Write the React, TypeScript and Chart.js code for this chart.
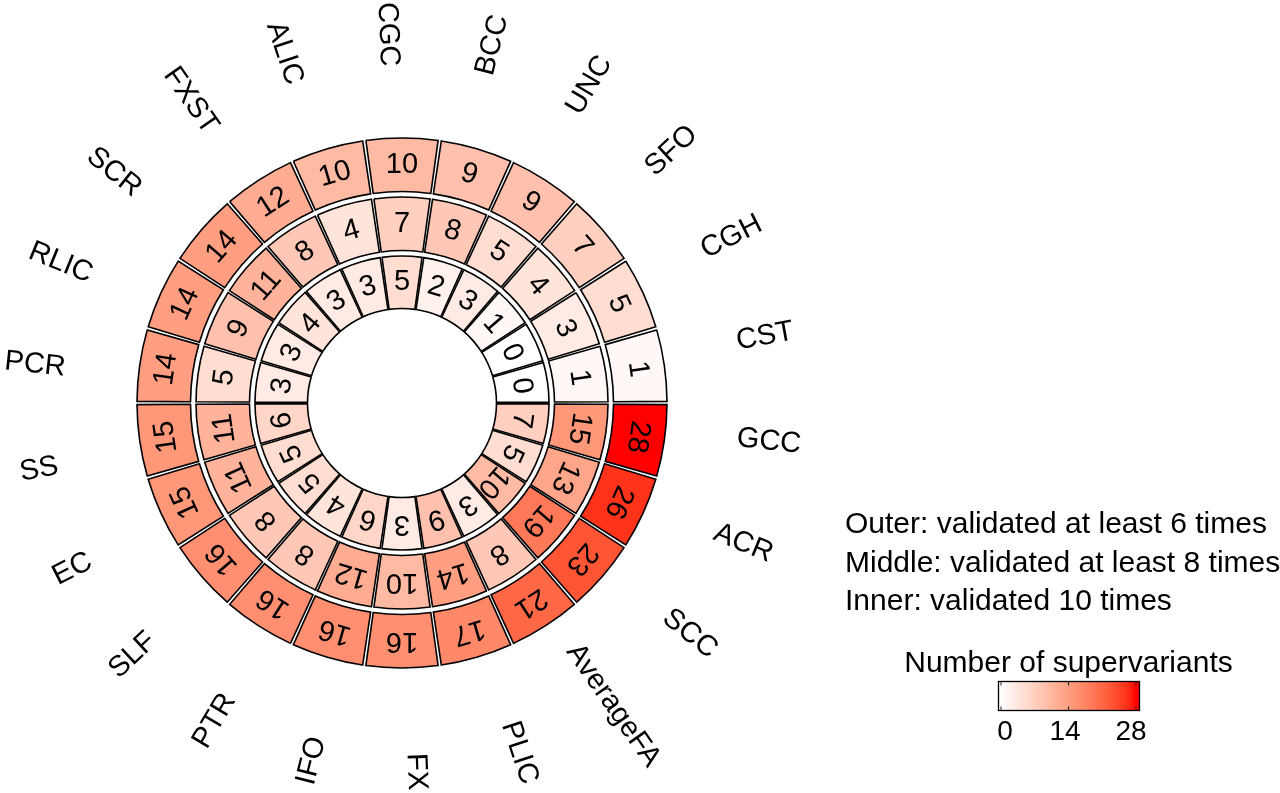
import React, { useEffect, useRef } from "react";
import { Chart, registerables } from "chart.js";

Chart.register(...registerables);

// ---------------- data ----------------
const sectors = [
  "GCC", "ACR", "SCC", "AverageFA", "PLIC", "FX", "IFO", "PTR", "SLF", "EC", "SS",
  "PCR", "RLIC", "SCR", "FXST", "ALIC", "CGC", "BCC", "UNC", "SFO", "CGH", "CST",
];
const outerValues = [28, 26, 23, 21, 17, 16, 16, 16, 16, 15, 15, 14, 14, 14, 12, 10, 10, 9, 9, 7, 5, 1];
const middleValues = [15, 13, 19, 8, 14, 10, 12, 8, 8, 11, 11, 5, 9, 11, 8, 4, 7, 8, 5, 4, 3, 1];
const innerValues = [7, 5, 10, 3, 9, 3, 6, 4, 5, 5, 6, 3, 3, 4, 3, 3, 5, 2, 3, 1, 0, 0];
const legendLines = [
  "Outer: validated at least 6 times",
  "Middle: validated at least 8 times",
  "Inner: validated 10 times",
];
const colorbarTitle = "Number of supervariants";
const colorbarTicks = [0, 14, 28];
const colorMin = 0;
const colorMax = 28;

// ---------------- styles / layout ----------------
const FONT = '"Liberation Sans", Arial, Helvetica, sans-serif';
const W = 1280;
const H = 793;
const CX = 402;
const CY = 403;
const OUTER_R = 265;
const INNER_R = 94.5;
const GAP_DEG = 0.7;
const SECTOR_DEG = 360 / sectors.length;
const CELL_UNIT = 1;
const GAP_UNIT = GAP_DEG / (SECTOR_DEG - GAP_DEG);
const LABEL_R = 369;
const LABEL_SHIFT_DEG = -2.2;
const CELL_BORDER = 1.6;

// ---------------- colour scale (LAB interpolation white -> red) ----------------
function srgbToLin(c: number) {
  c /= 255;
  return c <= 0.04045 ? c / 12.92 : Math.pow((c + 0.055) / 1.055, 2.4);
}
function linToSrgb(c: number) {
  const v = c <= 0.0031308 ? 12.92 * c : 1.055 * Math.pow(Math.max(c, 0), 1 / 2.4) - 0.055;
  return Math.round(Math.min(1, Math.max(0, v)) * 255);
}
function rgbToLab(rgb: number[]) {
  const R = srgbToLin(rgb[0]), G = srgbToLin(rgb[1]), B = srgbToLin(rgb[2]);
  const X = (0.4124 * R + 0.3576 * G + 0.1805 * B) / 0.95047;
  const Y = 0.2126 * R + 0.7152 * G + 0.0722 * B;
  const Z = (0.0193 * R + 0.1192 * G + 0.9505 * B) / 1.08883;
  const f = (t: number) => (t > 0.008856 ? Math.cbrt(t) : 7.787 * t + 16 / 116);
  const fx = f(X), fy = f(Y), fz = f(Z);
  return [116 * fy - 16, 500 * (fx - fy), 200 * (fy - fz)];
}
function labToRgb(lab: number[]) {
  const fy = (lab[0] + 16) / 116;
  const fx = fy + lab[1] / 500;
  const fz = fy - lab[2] / 200;
  const finv = (t: number) => (t * t * t > 0.008856 ? t * t * t : (t - 16 / 116) / 7.787);
  const X = finv(fx) * 0.95047, Y = finv(fy), Z = finv(fz) * 1.08883;
  const R = 3.2406 * X - 1.5372 * Y - 0.4986 * Z;
  const G = -0.9689 * X + 1.8758 * Y + 0.0415 * Z;
  const B = 0.0557 * X - 0.204 * Y + 1.057 * Z;
  return [linToSrgb(R), linToSrgb(G), linToSrgb(B)];
}
const LAB_LOW = rgbToLab([255, 255, 255]);
const LAB_HIGH = rgbToLab([255, 0, 0]);
function colorFor(v: number) {
  const t = Math.min(1, Math.max(0, (v - colorMin) / (colorMax - colorMin)));
  const lab = LAB_LOW.map((l, i) => l + (LAB_HIGH[i] - l) * t);
  const [r, g, b] = labToRgb(lab);
  return `rgb(${r},${g},${b})`;
}

// ---------------- dataset builders ----------------
function ringData(values: number[]) {
  const data: number[] = [GAP_UNIT / 2];
  values.forEach((_, i) => {
    data.push(CELL_UNIT);
    data.push(i === values.length - 1 ? GAP_UNIT / 2 : GAP_UNIT);
  });
  return data;
}
function ringColors(values: number[]) {
  const c: string[] = ["rgba(0,0,0,0)"];
  values.forEach((v) => {
    c.push(colorFor(v));
    c.push("rgba(0,0,0,0)");
  });
  return c;
}
function ringBorders(values: number[]) {
  const c: number[] = [0];
  values.forEach(() => {
    c.push(CELL_BORDER);
    c.push(0);
  });
  return c;
}
function ringDataset(values: number[], weight: number) {
  return {
    data: ringData(values),
    backgroundColor: ringColors(values),
    borderColor: "#000",
    borderWidth: ringBorders(values),
    borderJoinStyle: "miter" as const,
    weight,
  };
}
function spacer(weight: number) {
  return {
    data: [1],
    backgroundColor: ["rgba(0,0,0,0)"],
    borderWidth: 0,
    weight,
  };
}

const rings = [outerValues, middleValues, innerValues];
const ringDatasetIndex = [0, 2, 4];

const textPlugin = {
  id: "circularText",
  afterDatasetsDraw(chart: any) {
    const ctx: CanvasRenderingContext2D = chart.ctx;
    ctx.save();
    ctx.fillStyle = "#000";
    ctx.textAlign = "center";
    ctx.textBaseline = "middle";
    // cell numbers
    ctx.font = `29px ${FONT}`;
    rings.forEach((vals, r) => {
      const meta = chart.getDatasetMeta(ringDatasetIndex[r]);
      vals.forEach((v, k) => {
        const el = meta.data[2 * k + 1];
        const p = el.getProps(["x", "y", "startAngle", "endAngle", "innerRadius", "outerRadius"], true);
        const a = (p.startAngle + p.endAngle) / 2;
        const rr = (p.innerRadius + p.outerRadius) / 2;
        ctx.save();
        ctx.translate(p.x + rr * Math.cos(a), p.y + rr * Math.sin(a));
        ctx.rotate(a + Math.PI / 2);
        ctx.fillText(String(v), 0, 0);
        ctx.restore();
      });
    });
    // sector labels
    const meta0 = chart.getDatasetMeta(0);
    ctx.font = `29px ${FONT}`;
    sectors.forEach((name, k) => {
      const el = meta0.data[2 * k + 1];
      const p = el.getProps(["x", "y", "startAngle", "endAngle"], true);
      const a = (p.startAngle + p.endAngle) / 2;
      let deg = ((a * 180) / Math.PI) % 360;
      if (deg < 0) deg += 360;
      const flip = deg > 90.01 && deg <= 270.01;
      const la = a + (LABEL_SHIFT_DEG * Math.PI) / 180;
      ctx.save();
      ctx.translate(p.x + LABEL_R * Math.cos(la), p.y + LABEL_R * Math.sin(la));
      ctx.rotate(flip ? la + Math.PI : la);
      ctx.fillText(name, 0, 0);
      ctx.restore();
    });
    ctx.restore();
  },
  afterDraw(chart: any) {
    const ctx: CanvasRenderingContext2D = chart.ctx;
    ctx.save();
    ctx.fillStyle = "#000";
    ctx.textBaseline = "alphabetic";
    ctx.textAlign = "left";
    ctx.font = `30px ${FONT}`;
    const baselines = [533, 572, 610];
    legendLines.forEach((t, i) => ctx.fillText(t, 845, baselines[i]));

    ctx.textAlign = "center";
    ctx.fillText(colorbarTitle, 1068.5, 672);

    const bx0 = 998.5, bx1 = 1139.5, by0 = 681.5, by1 = 710.5;
    const tx0 = 1001, tx1 = 1136;
    const grad = ctx.createLinearGradient(tx0, 0, tx1, 0);
    for (let i = 0; i <= 20; i++) {
      const v = colorMin + ((colorMax - colorMin) * i) / 20;
      grad.addColorStop(i / 20, colorFor(v));
    }
    ctx.fillStyle = grad;
    ctx.fillRect(bx0, by0, bx1 - bx0, by1 - by0);
    ctx.strokeStyle = "#000";
    ctx.lineWidth = 1.3;
    ctx.strokeRect(bx0, by0, bx1 - bx0, by1 - by0);

    ctx.lineWidth = 1;
    ctx.strokeStyle = "#222";
    const labelX = [1005, 1065, 1131];
    ctx.fillStyle = "#000";
    ctx.font = `28px ${FONT}`;
    colorbarTicks.forEach((v, i) => {
      const x = tx0 + ((v - colorMin) / (colorMax - colorMin)) * (tx1 - tx0);
      ctx.beginPath();
      ctx.moveTo(x, by0);
      ctx.lineTo(x, by0 + 4);
      ctx.moveTo(x, by1);
      ctx.lineTo(x, by1 - 4);
      ctx.stroke();
      ctx.fillText(String(v), labelX[i], 740);
    });
    ctx.restore();
  },
};

export default function App() {
  const ref = useRef<HTMLCanvasElement | null>(null);
  useEffect(() => {
    if (!ref.current) return;
    const chart = new Chart(ref.current, {
      type: "doughnut",
      data: {
        labels: [],
        datasets: [
          ringDataset(outerValues, 53.5),
          spacer(5.5),
          ringDataset(middleValues, 53.5),
          spacer(5.5),
          ringDataset(innerValues, 52.5),
        ] as any,
      },
      options: {
        responsive: false,
        animation: false,
        events: [],
        rotation: 90,
        radius: OUTER_R,
        cutout: `${(INNER_R / OUTER_R) * 100}%`,
        layout: {
          padding: { left: 0, right: W - 2 * CX, top: 2 * CY - H, bottom: 0 },
        },
        plugins: {
          legend: { display: false },
          tooltip: { enabled: false },
          title: { display: false },
        },
      } as any,
      plugins: [textPlugin],
    });
    return () => chart.destroy();
  }, []);
  return (
    <div style={{ position: "absolute", left: 0, top: 0, width: W, height: H, background: "#fff" }}>
      <canvas ref={ref} width={W} height={H} style={{ display: "block", width: W, height: H }} />
    </div>
  );
}
